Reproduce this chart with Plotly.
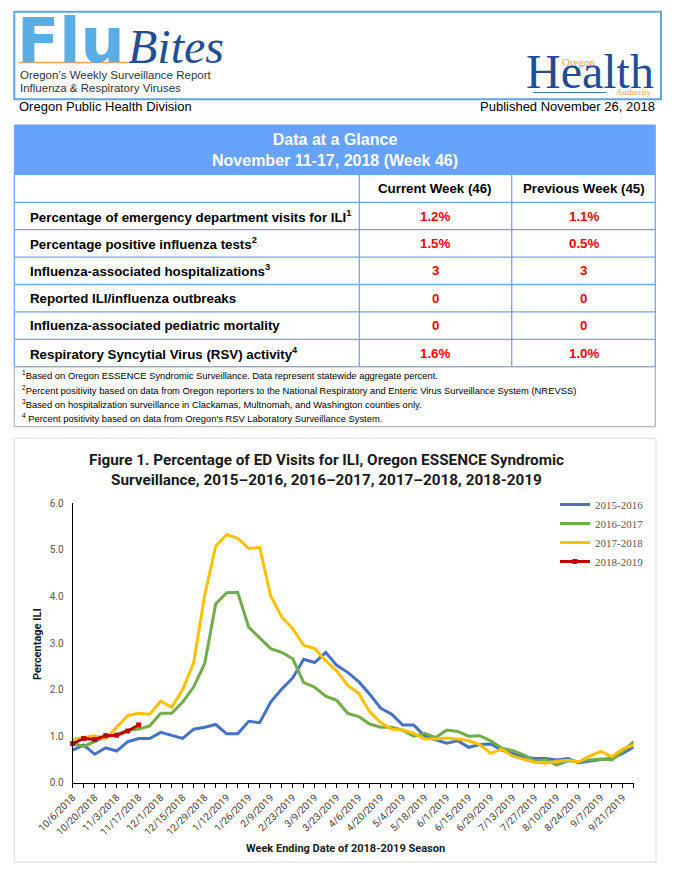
import plotly.graph_objects as go
import pandas as pd

# Percentage of ED visits for ILI, one value per week (first week ending 10/6)
ili_2015_16 = [0.70, 0.81, 0.61, 0.75, 0.68, 0.88, 0.95, 0.95, 1.08, 1.01,
               0.95, 1.15, 1.19, 1.25, 1.05, 1.05, 1.32, 1.29, 1.73, 2.01,
               2.25, 2.65, 2.58, 2.80, 2.52, 2.37, 2.17, 1.90, 1.60, 1.47,
               1.24, 1.24, 1.00, 0.92, 0.85, 0.90, 0.76, 0.82, 0.83, 0.70,
               0.63, 0.55, 0.52, 0.52, 0.49, 0.52, 0.43, 0.47, 0.50, 0.52,
               0.63, 0.77]
ili_2016_17 = [0.85, 0.78, 0.88, 0.99, 1.03, 1.12, 1.15, 1.22, 1.49, 1.49,
               1.73, 2.06, 2.56, 3.84, 4.08, 4.09, 3.34, 3.10, 2.88, 2.80,
               2.66, 2.15, 2.05, 1.86, 1.77, 1.49, 1.42, 1.26, 1.19, 1.19,
               1.13, 1.00, 1.06, 0.97, 1.13, 1.10, 1.00, 1.01, 0.90, 0.74,
               0.69, 0.60, 0.47, 0.49, 0.38, 0.47, 0.45, 0.49, 0.51, 0.49,
               0.67, 0.88]
ili_2017_18 = [0.93, 0.97, 1.01, 0.95, 1.20, 1.44, 1.49, 1.47, 1.75, 1.62,
               2.00, 2.58, 4.03, 5.08, 5.33, 5.25, 5.03, 5.05, 4.01, 3.56,
               3.31, 2.95, 2.88, 2.62, 2.40, 2.09, 1.92, 1.52, 1.29, 1.15,
               1.13, 1.06, 0.94, 0.94, 0.96, 0.94, 0.90, 0.82, 0.63, 0.72,
               0.57, 0.50, 0.44, 0.42, 0.46, 0.48, 0.45, 0.57, 0.67, 0.56,
               0.72, 0.81]
ili_2018_19 = [0.84, 0.95, 0.93, 1.01, 1.02, 1.11, 1.24]

seasons = ["2015-2016", "2016-2017", "2017-2018", "2018-2019"]
season_colors = ["#4472C4", "#70AD47", "#FFC000", "#C00000"]

weeks = pd.date_range("2018-10-06", periods=52, freq="7D")

# Data at a Glance table
table_cols = ["Current Week (46)", "Previous Week (45)"]
measures = [
    "Percentage of emergency department visits for ILI<sup>1</sup>",
    "Percentage positive influenza tests<sup>2</sup>",
    "Influenza-associated hospitalizations<sup>3</sup>",
    "Reported ILI/influenza outbreaks",
    "Influenza-associated pediatric mortality",
    "Respiratory Syncytial Virus (RSV) activity<sup>4</sup>",
]
current_week = ["1.2%", "1.5%", "3", "0", "0", "1.6%"]
previous_week = ["1.1%", "0.5%", "3", "0", "0", "1.0%"]
footnotes = [
    "<sup>1</sup>Based on Oregon ESSENCE Syndromic Surveillance. Data represent statewide aggregate percent.",
    "<sup>2</sup>Percent positivity based on data from Oregon reporters to the National Respiratory and Enteric Virus Surveillance System (NREVSS)",
    "<sup>3</sup>Based on hospitalization surveillance in Clackamas, Multnomah, and Washington counties only.",
    "<sup>4</sup> Percent positivity based on data from Oregon's RSV Laboratory Surveillance System.",
]

W, H = 680, 869


def px(x):
    return x / W


def py(y):
    return 1 - y / H


ARIAL = "Liberation Sans, Arial"
CHART = "Roboto, Noto Sans"
TABLE_BLUE = "#6FA6FF"

fig = go.Figure()

for name, vals, col in zip(seasons, [ili_2015_16, ili_2016_17, ili_2017_18, ili_2018_19], season_colors):
    red = name == "2018-2019"
    fig.add_trace(go.Scatter(
        x=weeks[:len(vals)], y=vals, name=name,
        mode="lines+markers" if red else "lines",
        line=dict(color=col, width=3),
        marker=dict(symbol="square", size=5, color=col),
        cliponaxis=False,
    ))


def box(x0, x1, y0, y1, **kw):
    return dict(type="rect", xref="paper", yref="paper",
                x0=px(x0), x1=px(x1), y0=py(y0), y1=py(y1), **kw)


def hline(x0, x1, y, color, width=1):
    return dict(type="line", xref="paper", yref="paper", x0=px(x0), x1=px(x1), y0=py(y), y1=py(y),
                line=dict(color=color, width=width))


def vline(x, y0, y1, color, width=1):
    return dict(type="line", xref="paper", yref="paper", x0=px(x), x1=px(x), y0=py(y0), y1=py(y1),
                line=dict(color=color, width=width))


# table grid (page pixels)
col_x = [14.3, 359.3, 511.7, 655.3]
head_top, head_bot, row_h = 174.3, 202.3, 27.4
table_bot = head_bot + row_h * len(measures)

shapes = [
    box(14.3, 661, 11.7, 99.3, line=dict(color="#5BA7DE", width=2)),  # masthead
    hline(19, 128, 62.5, "#F6A45C", 1.5),
    hline(533, 606, 92.5, "#1F4E96", 0.8),
    box(14.3, 655.3, 125, head_top, fillcolor="#66A2FF", line=dict(color=TABLE_BLUE, width=1)),
    box(14.3, 655.3, head_top, table_bot, line=dict(color=TABLE_BLUE, width=1.3)),
    vline(col_x[1], head_top, table_bot, TABLE_BLUE, 1.3),
    vline(col_x[2], head_top, table_bot, TABLE_BLUE, 1.3),
    box(14.3, 655.3, table_bot, 426.7, line=dict(color="#A6A6A6", width=1)),  # footnotes
    box(14.3, 656, 438.3, 862, line=dict(color="#D9D9D9", width=1)),  # chart frame
]
for k in range(len(measures)):
    shapes.append(hline(14.3, 655.3, head_bot + k * row_h, TABLE_BLUE, 1.3))

ann = []


def text(x, y, s, size, color="black", family=ARIAL, anchor="left", **kw):
    ann.append(dict(x=px(x), y=py(y), xref="paper", yref="paper", text=s, showarrow=False,
                    xanchor=anchor, yanchor="middle", font=dict(size=size, color=color, family=family), **kw))


# masthead
text(15, 40, "<b>Flu</b>", 62, "#5BADE2", "DejaVu Sans")
text(126, 46, "<i>Bites</i>", 48, "#1F4E96", "Liberation Serif")
text(18, 75, "Oregon’s Weekly Surveillance Report", 11.5, "#333333")
text(18, 88, "Influenza & Respiratory Viruses", 11.5, "#333333")
text(578, 62, "Oregon", 11, "#F39C4A", "Liberation Serif", anchor="center")
text(590, 71, "Health", 48, "#1F4E96", "Liberation Serif", anchor="center")
text(653, 92, "Authority", 9, "#F39C4A", "Liberation Serif", anchor="right")
text(17, 106, "Oregon Public Health Division", 13)
text(657, 106, "Published November 26, 2018", 13, anchor="right")

# Data at a Glance
text(335, 150, "<b>Data at a Glance</b><br><b>November 11-17, 2018 (Week 46)</b>", 16, "white",
     anchor="center")
col_mid = [(col_x[1] + col_x[2]) / 2, (col_x[2] + col_x[3]) / 2]
for cx, lab in zip(col_mid, table_cols):
    text(cx, (head_top + head_bot) / 2, "<b>%s</b>" % lab, 13.3, anchor="center")
for k, (m, cur, prev) in enumerate(zip(measures, current_week, previous_week)):
    yc = head_bot + (k + 0.5) * row_h
    text(28, yc, "<b>%s</b>" % m, 13.3)
    text(col_mid[0], yc, "<b>%s</b>" % cur, 13.3, "#FF0000", anchor="center")
    text(col_mid[1], yc, "<b>%s</b>" % prev, 13.3, "#FF0000", anchor="center")
for yy, f in zip([375, 390, 404, 418], footnotes):
    text(20, yy, f, 9.4, "black")

# chart texts
text(326, 470, "<b>Figure 1. Percentage of ED Visits for ILI, Oregon ESSENCE Syndromic<br>"
               "Surveillance, 2015–2016, 2016–2017, 2017–2018, 2018-2019</b>", 15.3, "#1a1a1a", CHART,
     anchor="center")
text(345, 848, "<b>Week Ending Date of 2018-2019 Season</b>", 11, "#1a1a1a", CHART, anchor="center")
text(37, 644, "<b>Percentage ILI</b>", 11, "#1a1a1a", CHART, anchor="center", textangle=-90)

fig.update_layout(
    width=W, height=H, margin=dict(l=0, r=0, t=0, b=0, autoexpand=False),
    paper_bgcolor="white", plot_bgcolor="white",
    shapes=shapes, annotations=ann,
    showlegend=True,
    legend=dict(x=px(555), y=py(490), xanchor="left", yanchor="top", bgcolor="rgba(0,0,0,0)",
                font=dict(family="Liberation Serif", size=11, color="#595959"),
                tracegroupgap=0),
    xaxis=dict(
        domain=[px(72.7), px(633.7)], type="date", range=[weeks[0], weeks[-1]],
        tickvals=weeks[::2], tickformat="%-m/%-d/%Y", tickangle=-45,
        ticks="outside", ticklen=4, tickcolor="black", automargin=False,
        minor=dict(tickvals=weeks, ticks="outside", ticklen=4, tickcolor="black"),
        showline=True, linecolor="black", linewidth=1.2, showgrid=False, zeroline=False,
        tickfont=dict(family=CHART, size=10, color="#404040"),
    ),
    yaxis=dict(
        domain=[py(782.7), py(503.3)], range=[0, 6], dtick=1, tickformat=".1f",
        showline=True, linecolor="black", linewidth=1.2, showgrid=False, zeroline=False,
        ticks="", ticklabelstandoff=6, automargin=False,
        tickfont=dict(family=CHART, size=10, color="#595959"),
    ),
)

# drop the browser's default 8px body margin so the page lines up with the figure
fig.write_html("out.html", config={"displayModeBar": False},
               post_script="document.body.style.margin='0';")
